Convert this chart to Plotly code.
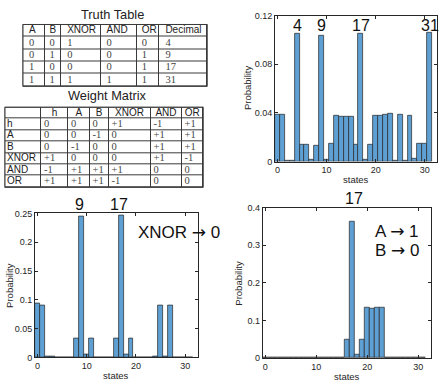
import plotly.graph_objects as go

W, H = 443, 389

# ---------------- data ----------------
states = list(range(32))

p_free = [0.0388, 0.0385, 0.0008, 0.0006, 0.1053, 0.0139, 0.0139, 0.0019, 0.0134, 0.1037,
          0.0017, 0.0147, 0.0377, 0.0370, 0.0370, 0.0370, 0.0139, 0.1056, 0.0019, 0.0139,
          0.0378, 0.0378, 0.0382, 0.0390, 0.0005, 0.0388, 0.0005, 0.0380, 0.0020, 0.0147,
          0.0147, 0.1060]

p_xnor0 = [0.093, 0.091, 0.001, 0.001, 0.0, 0.0, 0.0, 0.0, 0.033, 0.244,
           0.0045, 0.033, 0.0, 0.0, 0.0, 0.0, 0.033, 0.247, 0.005, 0.033,
           0.0, 0.0, 0.0, 0.0, 0.001, 0.091, 0.001, 0.091, 0.0, 0.0,
           0.0, 0.0]

p_a1b0 = [0.0, 0.0, 0.0, 0.0, 0.0, 0.0, 0.0, 0.0, 0.0, 0.0,
          0.0, 0.0, 0.0, 0.0, 0.0, 0.0, 0.049, 0.363, 0.0077, 0.049,
          0.135, 0.1324, 0.135, 0.134, 0.0, 0.0, 0.0, 0.0, 0.0, 0.0,
          0.0, 0.0]

free_labels = [4, 9, 17, 31]
xnor_labels = [9, 17]
a1b0_labels = [17]

tt_header = ["A", "B", "XNOR", "AND", "OR", "Decimal"]
tt_A = ["0", "0", "1", "1"]
tt_B = ["0", "1", "0", "1"]
tt_XNOR = ["1", "0", "0", "1"]
tt_AND = ["0", "0", "0", "1"]
tt_OR = ["0", "1", "1", "1"]
tt_DEC = ["4", "9", "17", "31"]

wm_header = ["", "h", "A", "B", "XNOR", "AND", "OR"]
wm_rows = ["h", "A", "B", "XNOR", "AND", "OR"]
wm_h = ["0", "0", "0", "+1", "-1", "+1"]
wm_A = ["0", "0", "-1", "0", "+1", "+1"]
wm_B = ["0", "-1", "0", "0", "+1", "+1"]
wm_XNOR = ["+1", "0", "0", "0", "+1", "-1"]
wm_AND = ["-1", "+1", "+1", "+1", "0", "0"]
wm_OR = ["+1", "+1", "+1", "-1", "0", "0"]

free_yticks = [0, 0.04, 0.08, 0.12]
free_yticktext = ["0", "0.04", "0.08", "0.12"]
xnor_yticks = [0, 0.05, 0.1, 0.15, 0.2, 0.25]
xnor_yticktext = ["0", "0.05", "0.1", "0.15", "0.2", "0.25"]
a1b0_yticks = [0, 0.1, 0.2, 0.3, 0.4]
a1b0_yticktext = ["0", "0.1", "0.2", "0.3", "0.4"]
xticks = [0, 10, 20, 30]

# ---------------- style ----------------
SANS = "Liberation Sans"
SERIF = "Liberation Serif"
BAR = "rgb(94,160,212)"
EDGE = "rgba(40,40,40,0.9)"
AX = "#262626"
GRID = "#3a3a3a"

# table geometry (pixels)
tt_widths = [21.6, 16.6, 39.3, 36.3, 22.6, 47.6]
tt_box = (23, 207, 20, 83.3)          # x0, x1, y0, y1 in px
tt_pad = [6, 5, 6, 6, 5, 6]
wm_widths = [36, 27, 21.5, 19, 42, 31, 21.5]
wm_box = (5, 203, 105, 187)
wm_pad = [2, 3, 3, 3, 3, 3, 3]


def px_x(p):
    return p / W


def px_y(p):
    return 1 - p / H


fig = go.Figure()
shapes = []


def cum_edges(widths):
    e = [0.0]
    for w in widths:
        e.append(e[-1] + w)
    return e


def add_table(xa, ya, header, columns, widths, pad, header_center, first_col_sans):
    ncol = len(header)
    nrow = len(columns[0]) + 1
    edges = cum_edges(widths)
    fig.add_trace(go.Heatmap(
        x=edges, y=list(range(nrow + 1)),
        z=[[0] * ncol for _ in range(nrow)],
        colorscale=[[0, "white"], [1, "white"]], showscale=False,
        xgap=1, ygap=1, hoverinfo="skip", xaxis=xa, yaxis=ya))
    xs, ys, txt, fam, size, col, anchor = [], [], [], [], [], [], []
    for j in range(ncol):
        if header[j]:
            if header_center:
                xs.append((edges[j] + edges[j + 1]) / 2)
                anchor.append("middle center")
            else:
                xs.append(edges[j] + pad[j])
                anchor.append("middle right")
            ys.append(0.5)
            txt.append(header[j])
            fam.append(SANS)
            size.append(10)
            col.append("#222")
        for i, v in enumerate(columns[j]):
            xs.append(edges[j] + pad[j])
            ys.append(i + 1.5)
            txt.append(v)
            anchor.append("middle right")
            if first_col_sans and j == 0:
                fam.append(SANS)
                size.append(10)
                col.append("#222")
            else:
                fam.append(SERIF)
                size.append(10.5)
                col.append("#444")
    fig.add_trace(go.Scatter(
        x=xs, y=ys, text=txt, mode="text", textposition=anchor,
        textfont=dict(family=fam, size=size, color=col),
        marker=dict(size=0.1), hoverinfo="skip", xaxis=xa, yaxis=ya, showlegend=False))
    return edges[-1], nrow


tt_w, tt_n = add_table("x4", "y4", tt_header, [tt_A, tt_B, tt_XNOR, tt_AND, tt_OR, tt_DEC],
                       tt_widths, tt_pad, False, False)
wm_w, wm_n = add_table("x5", "y5", wm_header,
                       [wm_rows, wm_h, wm_A, wm_B, wm_XNOR, wm_AND, wm_OR],
                       wm_widths, wm_pad, True, True)

for box in (tt_box, wm_box):
    x0, x1, y0, y1 = box
    shapes.append(dict(type="rect", xref="paper", yref="paper", layer="below",
                       x0=px_x(x0 - 0.5), x1=px_x(x1 + 0.5), y0=px_y(y1 + 0.5), y1=px_y(y0 - 0.5),
                       fillcolor=GRID, line=dict(width=0)))
    shapes.append(dict(type="rect", xref="paper", yref="paper", layer="above",
                       x0=px_x(x0), x1=px_x(x1), y0=px_y(y1), y1=px_y(y0),
                       fillcolor="rgba(0,0,0,0)", line=dict(color=GRID, width=1)))

# ---------------- bar charts ----------------
for vals, xa, ya in [(p_free, "x", "y"), (p_xnor0, "x2", "y2"), (p_a1b0, "x3", "y3")]:
    fig.add_trace(go.Bar(x=states, y=vals, xaxis=xa, yaxis=ya, width=1,
                         marker=dict(color=BAR, line=dict(color=EDGE, width=0.8)),
                         showlegend=False, hoverinfo="skip"))

axis_common = dict(showline=True, mirror="ticks", linecolor=AX, linewidth=1,
                   ticks="inside", ticklen=3, tickcolor=AX, tickwidth=1,
                   tickfont=dict(family=SANS, size=9, color=AX),
                   showgrid=False, zeroline=False, fixedrange=True)
hidden = dict(visible=False, fixedrange=True, showgrid=False, zeroline=False)

layout_axes = dict(
    xaxis=dict(domain=[px_x(275), px_x(437)], anchor="y", range=[-0.5, 32.5],
               tickvals=xticks, **axis_common),
    yaxis=dict(domain=[px_y(160.7), px_y(11)], anchor="x", range=[0, 0.12],
               tickvals=free_yticks, ticktext=free_yticktext, **axis_common),
    xaxis2=dict(domain=[px_x(35), px_x(197.5)], anchor="y2", range=[-0.5, 32.5],
                tickvals=xticks, **axis_common),
    yaxis2=dict(domain=[px_y(361.7), px_y(214)], anchor="x2", range=[0, 0.25],
                tickvals=xnor_yticks, ticktext=xnor_yticktext, **axis_common),
    xaxis3=dict(domain=[px_x(262.7), px_x(431)], anchor="y3", range=[-0.5, 32.5],
                tickvals=xticks, **axis_common),
    yaxis3=dict(domain=[px_y(362.3), px_y(208)], anchor="x3", range=[0, 0.4],
                tickvals=a1b0_yticks, ticktext=a1b0_yticktext, **axis_common),
    xaxis4=dict(domain=[px_x(tt_box[0]), px_x(tt_box[1])], anchor="y4", range=[0, tt_w], **hidden),
    yaxis4=dict(domain=[px_y(tt_box[3]), px_y(tt_box[2])], anchor="x4", range=[tt_n, 0], **hidden),
    xaxis5=dict(domain=[px_x(wm_box[0]), px_x(wm_box[1])], anchor="y5", range=[0, wm_w], **hidden),
    yaxis5=dict(domain=[px_y(wm_box[3]), px_y(wm_box[2])], anchor="x5", range=[wm_n, 0], **hidden),
)

ann = []


def paper_text(text, x, y, font, angle=0):
    ann.append(dict(text=text, x=px_x(x), y=px_y(y), xref="paper", yref="paper",
                    xanchor="center", yanchor="middle", textangle=angle,
                    showarrow=False, font=font))


TITLE = dict(family=SANS, size=12.8, color="#222")
paper_text("Truth Table", 113, 9.5, TITLE)
paper_text("Weight Matrix", 107, 92.5, TITLE)

LAB = dict(family=SANS, size=9.5, color=AX)
for (px_, py_, sx_, sy_) in [(248.3, 85, 356, 179), (9.3, 288, 116, 380), (239, 285, 347, 381.7)]:
    paper_text("Probability", px_, py_, LAB, -90)
    paper_text("states", sx_, sy_, LAB)

BIG = dict(family=SANS, size=16, color="#111")
for s in free_labels:
    ann.append(dict(text=str(s), x=s, xref="x", y=px_y(20.7), yref="paper",
                    xanchor="center", yanchor="middle", showarrow=False, font=BIG))
for s in xnor_labels:
    ann.append(dict(text=str(s), x=s, xref="x2", xshift=-2, y=px_y(205), yref="paper",
                    xanchor="center", yanchor="middle", showarrow=False, font=BIG))
for s in a1b0_labels:
    ann.append(dict(text=str(s), x=s, xref="x3", xshift=2, y=px_y(198.3), yref="paper",
                    xanchor="center", yanchor="middle", showarrow=False, font=BIG))

TXT = dict(family=SANS, size=17, color="#111")
ARROW = "<span style='font-family:DejaVu Sans'>\u2192</span>"
paper_text("XNOR " + ARROW + " 0", 179, 233.3, TXT)
paper_text("A " + ARROW + " 1", 397, 231.7, TXT)
paper_text("B " + ARROW + " 0", 397, 251.7, TXT)

fig.update_layout(
    width=W, height=H, margin=dict(l=0, r=0, t=0, b=0, pad=0),
    paper_bgcolor="white", plot_bgcolor="white",
    bargap=0, showlegend=False, annotations=ann, shapes=shapes,
    **layout_axes,
)

fig.write_html("out.html", config={"displayModeBar": False},
               post_script="document.body.style.margin='0px';")
